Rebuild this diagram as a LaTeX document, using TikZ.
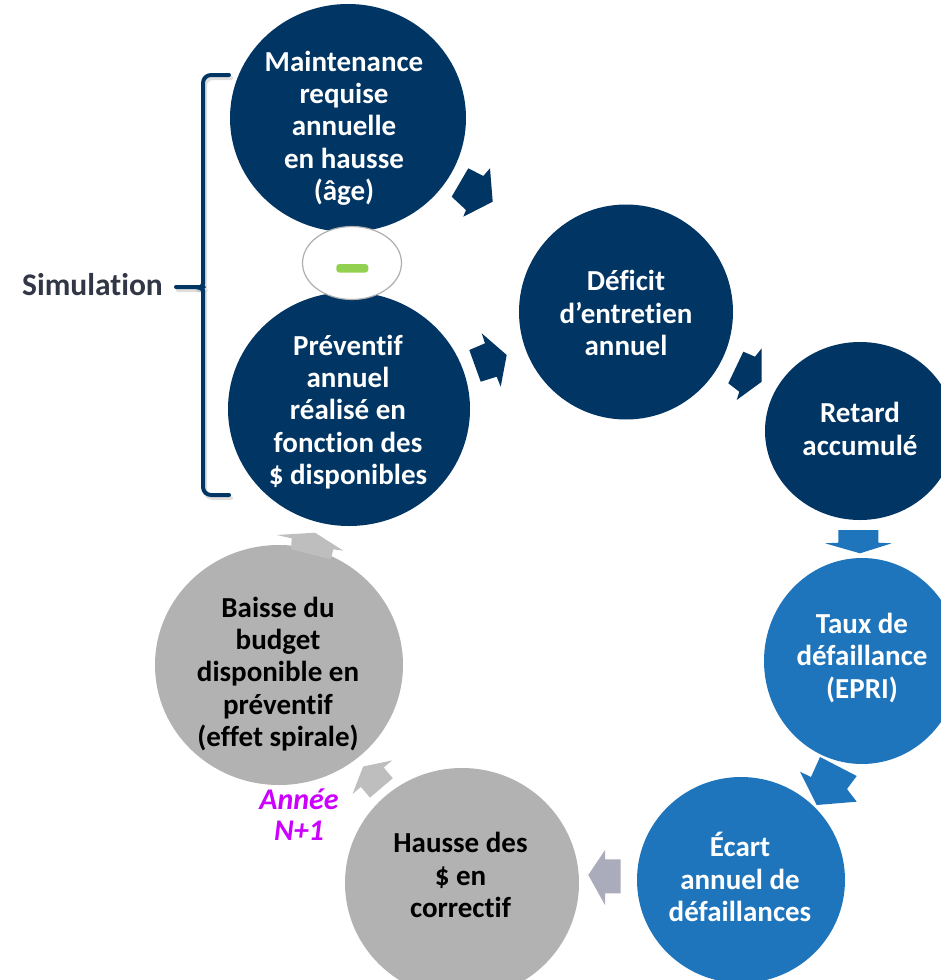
\documentclass[tikz,border=0pt]{standalone}
\usepackage{fontspec}
\setmainfont{Carlito}[Ligatures={NoCommon}]
\usetikzlibrary{shapes.geometric}

\definecolor{navy}{RGB}{1,53,99}
\definecolor{midblue}{RGB}{30,117,188}
\definecolor{bubblegray}{RGB}{178,178,178}
\definecolor{arrowgray}{RGB}{190,190,190}
\definecolor{arrowslate}{RGB}{170,172,187}
\definecolor{rimgray}{RGB}{175,175,175}
\definecolor{minusgreen}{RGB}{146,208,80}
\definecolor{labeldark}{RGB}{50,55,70}
\definecolor{yearpurple}{RGB}{204,0,255}

\begin{document}
\begin{tikzpicture}[x=1pt,y=-1pt,
  bubble/.style={ellipse, draw=none, inner sep=0pt, outer sep=0pt},
  bubbletext/.style={align=center, inner sep=0pt,
    font=\bfseries\fontsize{29}{32.3}\selectfont},
  bracestroke/.style={line width=4pt, line cap=round, line join=round, rounded corners=8pt}
]
\useasboundingbox (0,0) rectangle (941,980);
\clip (0,0) rectangle (941,980);
\fill[white] (0,0) rectangle (941,980);

% ---- bubbles ----
\node[bubble, fill=navy, minimum width=236pt, minimum height=228pt] (maint) at (348,118) {};
\node[bubble, fill=navy, minimum width=242pt, minimum height=234pt] (prev) at (349,409) {};
\node[bubble, fill=navy, minimum width=214pt, minimum height=215pt] (def) at (626,312) {};
\node[bubble, fill=navy, minimum width=190pt, minimum height=178pt] (ret) at (860,431) {};
\node[bubble, fill=midblue, minimum width=196pt, minimum height=206pt] (taux) at (862,661) {};
\node[bubble, fill=midblue, minimum width=208pt, minimum height=206pt] (ecart) at (741,880) {};
\node[bubble, fill=bubblegray, minimum width=234pt, minimum height=230pt] (hausse) at (462,883) {};
\node[bubble, fill=bubblegray, minimum width=248pt, minimum height=240pt] (baisse) at (279,665) {};

% ---- bubble texts ----
\node[bubbletext, text=white] (maint-t) at (344,128) {Maintenance\\requise\\annuelle\\en hausse\\(âge)};
\node[bubbletext, text=white] (prev-t) at (348,412) {Préventif\\annuel\\réalisé en\\fonction des\\\$ disponibles};
\node[bubbletext, text=white] (def-t) at (626,313) {Déficit\\d’entretien\\annuel};
\node[bubbletext, text=white] (ret-t) at (860,429) {Retard\\accumulé};
\node[bubbletext, text=white] (taux-t) at (862,658) {Taux de\\défaillance\\(EPRI)};
\node[bubbletext, text=white] (ecart-t) at (740,877) {Écart\\annuel de\\défaillances};
\node[bubbletext, text=black] (hausse-t) at (460.5,875) {Hausse des\\\$ en\\correctif};
\node[bubbletext, text=black] (baisse-t) at (278,674) {Baisse du\\budget\\disponible en\\préventif\\(effet spirale)};

% ---- minus sign between the two simulated inputs ----
\node[ellipse, draw=rimgray, line width=1.2pt, fill=white, minimum width=99pt, minimum height=73pt, inner sep=0pt] (minus) at (352,263) {};
\node[rectangle, fill=minusgreen, rounded corners=3pt, minimum width=32pt, minimum height=8.5pt, inner sep=0pt] (minus-bar) at (352.3,268.3) {};

% ---- block arrows of the cycle ----
% maintenance -> deficit
\fill[navy] (468.3,168.3) -- (483.3,176) -- (490,168.3) -- (492.7,201.7) -- (463.3,216.7) -- (466,210) -- (451.7,196.7) -- cycle;
% preventive -> deficit
\fill[navy] (469.3,350) -- (485,343.3) -- (481.7,333.3) -- (506.7,355) -- (500.7,386.7) -- (496.7,376.7) -- (480.7,381.7) -- cycle;
% deficit -> backlog
\fill[navy] (743.3,351.7) -- (755,356.7) -- (761.7,348.3) -- (761.7,381.7) -- (736.7,400) -- (739.3,391.7) -- (728.3,383.3) -- cycle;
% backlog -> failure rate
\fill[midblue] (838.3,530) -- (878.3,530) -- (878.3,542.7) -- (891.7,543.3) -- (860,553.3) -- (825,543.3) -- (838.3,542.7) -- cycle;
% failure rate -> failure gap
\fill[midblue] (820,757) -- (856.7,776) -- (847,789) -- (856.7,801.7) -- (816.7,805) -- (800,771.7) -- (811,777) -- cycle;
% failure gap -> corrective spending
\fill[arrowslate] (620.7,859.3) -- (620.7,893.3) -- (605,893.3) -- (605,905) -- (588.3,875) -- (605,850) -- (605,859.3) -- cycle;
% corrective spending -> reduced budget
\fill[arrowgray] (392.8,778.2) -- (383.7,767.5) -- (392.1,760.4) -- (363.2,766.5) -- (352.5,794.0) -- (360.9,786.9) -- (370.0,797.6) -- cycle;
% reduced budget -> preventive
\fill[arrowgray] (276.7,535) -- (315,532.7) -- (343.3,550.7) -- (333.3,549.3) -- (330.7,559.3) -- (291,549.3) -- (291.7,538.3) -- cycle;

% ---- brace grouping the simulated inputs ----
\begin{scope}[shift={(2,3)}, opacity=0.25]
  \draw[bracestroke, gray] (229,75) -- (203,75) -- (203,276) .. controls (203,284) and (200,287) .. (196,287) -- (176,287);
  \draw[bracestroke, gray] (196,287) .. controls (200,287) and (203,290) .. (203,298) -- (203,495) -- (229,495);
\end{scope}
\draw[bracestroke, navy] (229,75) -- (203,75) -- (203,276) .. controls (203,284) and (200,287) .. (196,287) -- (176,287);
\draw[bracestroke, navy] (196,287) .. controls (200,287) and (203,290) .. (203,298) -- (203,495) -- (229,495);
\coordinate (brace-tip) at (176,287);

% ---- side labels ----
\node[anchor=east, inner sep=0pt, text=labeldark, font=\bfseries\fontsize{31.5}{35}\selectfont] (sim) at (163,285) {Simulation};
\node[align=center, inner sep=0pt, text=yearpurple, font=\bfseries\itshape\fontsize{30}{31}\selectfont] (annee) at (299,815) {Année\\N+1};
\end{tikzpicture}
\end{document}
